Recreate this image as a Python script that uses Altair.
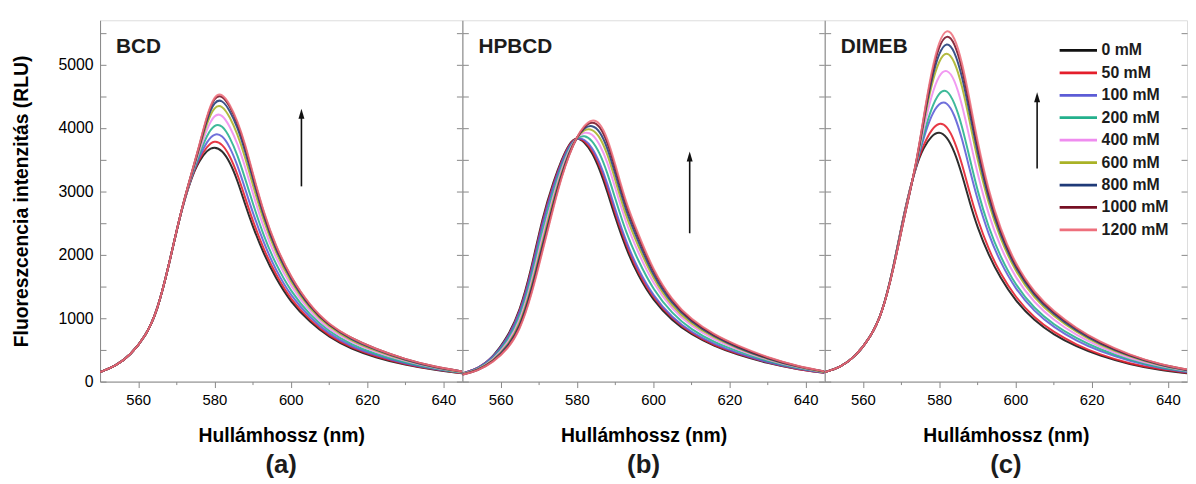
import altair as alt
import pandas as pd

# ---------------- data ----------------
WAVELENGTH = [550, 554, 558, 562, 565, 568, 571, 574, 576, 578, 580, 582, 584,
              586, 588, 590, 593, 596, 600, 605, 610, 616, 622, 630, 638, 645]

CONCENTRATIONS = ["0 mM", "50 mM", "100 mM", "200 mM", "400 mM",
                  "600 mM", "800 mM", "1000 mM", "1200 mM"]
COLORS = ["#111111", "#e41e2b", "#5c5cd6", "#24b08c", "#ef8cef",
          "#a9b226", "#1f3a78", "#761024", "#ee6f7c"]

BCD = {
    "0 mM":    [150, 240, 420, 720, 1110, 1820, 2640, 3230, 3480, 3650, 3710, 3650, 3470, 3180, 2800, 2450, 2000, 1640, 1250, 940, 700, 510, 385, 260, 180, 130],
    "50 mM":   [150, 240, 420, 720, 1110, 1820, 2640, 3240, 3510, 3710, 3810, 3750, 3570, 3280, 2910, 2540, 2070, 1700, 1290, 970, 720, 530, 400, 270, 190, 130],
    "100 mM":  [150, 240, 420, 720, 1110, 1820, 2640, 3250, 3540, 3790, 3920, 3890, 3710, 3420, 3050, 2670, 2170, 1770, 1350, 1010, 750, 550, 420, 280, 190, 140],
    "200 mM":  [150, 240, 420, 720, 1110, 1820, 2640, 3260, 3580, 3890, 4060, 4050, 3860, 3580, 3210, 2820, 2280, 1860, 1420, 1050, 790, 580, 440, 300, 200, 140],
    "400 mM":  [150, 240, 420, 720, 1110, 1820, 2640, 3270, 3630, 3990, 4220, 4220, 4030, 3760, 3400, 2980, 2400, 1960, 1500, 1100, 820, 620, 470, 320, 210, 150],
    "600 mM":  [150, 240, 420, 720, 1110, 1820, 2640, 3280, 3670, 4080, 4350, 4360, 4180, 3910, 3550, 3110, 2510, 2040, 1560, 1140, 860, 640, 490, 330, 220, 150],
    "800 mM":  [150, 240, 420, 720, 1110, 1820, 2640, 3280, 3690, 4140, 4430, 4450, 4280, 4020, 3650, 3210, 2580, 2090, 1610, 1170, 880, 660, 510, 340, 220, 160],
    "1000 mM": [150, 240, 420, 720, 1110, 1820, 2640, 3290, 3710, 4180, 4500, 4520, 4350, 4090, 3730, 3270, 2630, 2130, 1640, 1190, 890, 680, 520, 350, 230, 160],
    "1200 mM": [150, 240, 420, 720, 1110, 1820, 2640, 3290, 3720, 4200, 4520, 4550, 4380, 4120, 3760, 3300, 2650, 2150, 1650, 1200, 900, 680, 520, 350, 230, 160],
}

HPBCD = {
    "0 mM":    [130, 200, 380, 720, 1100, 1750, 2600, 3180, 3500, 3760, 3860, 3780, 3620, 3350, 3000, 2600, 2080, 1680, 1280, 960, 740, 560, 425, 290, 190, 140],
    "50 mM":   [130, 200, 370, 700, 1080, 1720, 2560, 3150, 3480, 3750, 3860, 3800, 3660, 3410, 3070, 2670, 2140, 1730, 1320, 990, 760, 570, 440, 300, 190, 140],
    "100 mM":  [130, 200, 370, 690, 1060, 1690, 2520, 3120, 3460, 3730, 3850, 3830, 3700, 3460, 3130, 2730, 2190, 1780, 1350, 1010, 780, 590, 450, 300, 200, 140],
    "200 mM":  [120, 190, 350, 650, 1000, 1600, 2410, 3040, 3400, 3700, 3850, 3890, 3810, 3610, 3300, 2900, 2330, 1920, 1450, 1070, 820, 620, 480, 320, 210, 150],
    "400 mM":  [120, 180, 340, 610, 940, 1520, 2300, 2960, 3350, 3660, 3860, 3940, 3920, 3750, 3470, 3070, 2480, 2050, 1540, 1140, 870, 660, 510, 340, 220, 150],
    "600 mM":  [120, 180, 320, 580, 890, 1460, 2210, 2900, 3300, 3630, 3860, 3980, 3990, 3870, 3600, 3200, 2580, 2150, 1620, 1180, 910, 690, 530, 350, 230, 150],
    "800 mM":  [110, 180, 310, 560, 850, 1410, 2150, 2850, 3270, 3610, 3860, 4010, 4050, 3960, 3700, 3300, 2670, 2230, 1670, 1220, 940, 710, 540, 360, 230, 160],
    "1000 mM": [110, 170, 310, 530, 820, 1360, 2090, 2810, 3240, 3590, 3860, 4030, 4110, 4040, 3790, 3390, 2750, 2300, 1730, 1260, 960, 730, 560, 370, 240, 160],
    "1200 mM": [110, 170, 300, 520, 800, 1330, 2050, 2780, 3220, 3580, 3860, 4050, 4140, 4090, 3850, 3450, 2800, 2350, 1760, 1280, 980, 740, 570, 380, 240, 160],
}

DIMEB = {
    "0 mM":    [150, 220, 390, 700, 1060, 1780, 2730, 3420, 3700, 3880, 3950, 3870, 3640, 3270, 2830, 2440, 1990, 1640, 1270, 960, 740, 550, 410, 270, 180, 130],
    "50 mM":   [150, 220, 390, 700, 1060, 1780, 2720, 3420, 3750, 3980, 4090, 4040, 3810, 3440, 2980, 2570, 2080, 1710, 1330, 1000, 780, 580, 430, 280, 190, 140],
    "100 mM":  [150, 220, 390, 700, 1060, 1780, 2700, 3420, 3860, 4210, 4400, 4420, 4220, 3840, 3350, 2880, 2310, 1890, 1460, 1100, 860, 640, 480, 320, 210, 150],
    "200 mM":  [150, 220, 390, 700, 1060, 1780, 2690, 3420, 3920, 4320, 4570, 4620, 4410, 4040, 3530, 3020, 2420, 1980, 1520, 1150, 900, 680, 510, 340, 220, 160],
    "400 mM":  [150, 220, 390, 700, 1060, 1770, 2670, 3420, 4010, 4520, 4850, 4940, 4780, 4380, 3840, 3290, 2620, 2130, 1630, 1240, 970, 730, 550, 360, 240, 170],
    "600 mM":  [150, 220, 390, 700, 1060, 1770, 2660, 3420, 4100, 4690, 5080, 5220, 5070, 4680, 4110, 3510, 2790, 2260, 1730, 1310, 1030, 780, 580, 390, 250, 180],
    "800 mM":  [150, 220, 390, 700, 1060, 1770, 2650, 3420, 4140, 4770, 5200, 5370, 5230, 4830, 4250, 3630, 2870, 2320, 1780, 1350, 1060, 800, 600, 400, 260, 180],
    "1000 mM": [150, 220, 390, 700, 1060, 1760, 2640, 3420, 4180, 4850, 5310, 5490, 5360, 4960, 4370, 3730, 2950, 2380, 1820, 1380, 1090, 830, 620, 410, 270, 190],
    "1200 mM": [150, 220, 390, 700, 1060, 1760, 2640, 3430, 4200, 4900, 5380, 5580, 5450, 5050, 4450, 3800, 3000, 2420, 1850, 1400, 1110, 840, 630, 420, 270, 190],
}

PANEL_SERIES = [BCD, HPBCD, DIMEB]
PANEL_NAMES = ["BCD", "HPBCD", "DIMEB"]
PANEL_LETTERS = ["(a)", "(b)", "(c)"]

X_MAJOR = [560, 580, 600, 620, 640]
X_MINOR = [570, 590, 610, 630]
Y_LABELS = [0, 1000, 2000, 3000, 4000, 5000]
Y_TICKS = [0, 500, 1000, 1500, 2000, 2500, 3000, 3500, 4000, 4500, 5000, 5500]

# annotation anchors (data coordinates)
NAME_X, NAME_Y = 554.2, 5270
ARROW_X = [602.8, 609.6, 605.7]
ARROW_Y0 = [3080, 2340, 3360]
ARROW_Y1 = [4300, 3625, 4560]
LEG_X0, LEG_X1, LEG_TX = 611.6, 621.4, 622.6
LEG_TOP, LEG_STEP = 5225, 354

# ---------------- styling ----------------
W, H = 366, 365
FONT = "Liberation Sans"
TXT = "#1c1c1c"
AXC = "#404040"

X_SCALE = alt.Scale(domain=[550, 645], nice=False, zero=False)
Y_SCALE = alt.Scale(domain=[0, 5700], nice=False, zero=False)
C_SCALE = alt.Scale(domain=CONCENTRATIONS, range=COLORS)

NO_GRID = dict(grid=False, gridOpacity=0, gridColor="white")


def build_panel(i):
    series = PANEL_SERIES[i]
    rows = []
    for conc in CONCENTRATIONS:
        for wl, val in zip(WAVELENGTH, series[conc]):
            rows.append({"nm": wl, "rlu": val, "conc": conc})
    df = pd.DataFrame(rows)
    first = i == 0

    if first:
        y_main = alt.Axis(orient="left", values=Y_LABELS, ticks=False, domain=True,
                          labels=True, labelPadding=7, labelFontSize=16, format="d",
                          title="Fluoreszcencia intenzitás (RLU)", titleFontSize=19.5,
                          titleX=-79, titleY=H / 2, titleAngle=-90,
                          titleAlign="center", titleBaseline="middle", **NO_GRID)
    else:
        y_main = alt.Axis(orient="left", values=Y_LABELS, ticks=False, domain=True,
                          labels=False, title=None, **NO_GRID)

    x_main = alt.Axis(orient="bottom", values=X_MAJOR, tickSize=6, labelFontSize=15,
                      labelPadding=5, title="Hullámhossz (nm)", titleFontSize=19.5,
                      titlePadding=20, **NO_GRID)

    lines = alt.Chart(df).mark_line(interpolate="basis", strokeWidth=2, opacity=0.88, clip=True).encode(
        x=alt.X("nm:Q", scale=X_SCALE, axis=x_main),
        y=alt.Y("rlu:Q", scale=Y_SCALE, axis=y_main),
        color=alt.Color("conc:N", scale=C_SCALE, legend=None),
    )

    arrow_df = pd.DataFrame({
        "x": [ARROW_X[i]],
        "y0": [ARROW_Y0[i]],
        "y1": [ARROW_Y1[i] - 110],
        "yh": [ARROW_Y1[i] - 75],
    })
    shaft = alt.Chart(arrow_df).mark_rule(color="#111111", strokeWidth=1.6).encode(
        x=alt.X("x:Q", scale=X_SCALE,
                axis=alt.Axis(orient="bottom", values=X_MINOR, tickSize=3, labels=False,
                              domain=False, title=None, **NO_GRID)),
        y=alt.Y("y0:Q", scale=Y_SCALE,
                axis=alt.Axis(orient="right", offset=-W, values=Y_TICKS, tickSize=6,
                              labels=False, domain=False, title=None, **NO_GRID)),
        y2="y1:Q",
    )
    head = alt.Chart(arrow_df).mark_point(
        shape="M0,-1L0.6,1L-0.6,1Z", size=100, filled=True, color="#111111", opacity=1
    ).encode(
        x=alt.X("x:Q", scale=X_SCALE, axis=None),
        y=alt.Y("yh:Q", scale=Y_SCALE,
                axis=alt.Axis(orient="left", offset=-W, values=Y_TICKS, tickSize=6,
                              labels=False, domain=False, title=None, **NO_GRID)),
    )

    name_df = pd.DataFrame({"x": [NAME_X], "y": [NAME_Y], "label": [PANEL_NAMES[i]]})
    name = alt.Chart(name_df).mark_text(
        align="left", baseline="middle", fontSize=21, fontWeight="bold", font=FONT, color=TXT
    ).encode(
        x=alt.X("x:Q", scale=X_SCALE, axis=None),
        y=alt.Y("y:Q", scale=Y_SCALE, axis=None),
        text="label:N",
    )

    layers = [lines, shaft, head, name]

    if i == 2:
        leg_df = pd.DataFrame({
            "conc": CONCENTRATIONS,
            "x0": [LEG_X0] * len(CONCENTRATIONS),
            "x1": [LEG_X1] * len(CONCENTRATIONS),
            "tx": [LEG_TX] * len(CONCENTRATIONS),
            "y": [LEG_TOP - k * LEG_STEP for k in range(len(CONCENTRATIONS))],
        })
        leg_lines = alt.Chart(leg_df).mark_rule(strokeWidth=2.8).encode(
            x=alt.X("x0:Q", scale=X_SCALE, axis=None),
            x2="x1:Q",
            y=alt.Y("y:Q", scale=Y_SCALE, axis=None),
            color=alt.Color("conc:N", scale=C_SCALE, legend=None),
        )
        leg_text = alt.Chart(leg_df).mark_text(
            align="left", baseline="middle", fontSize=16, fontWeight="bold", font=FONT, color=TXT
        ).encode(
            x=alt.X("tx:Q", scale=X_SCALE, axis=None),
            y=alt.Y("y:Q", scale=Y_SCALE, axis=None),
            text="conc:N",
        )
        layers += [leg_lines, leg_text]

    return alt.layer(*layers).resolve_axis(x="independent", y="independent").properties(
        width=W, height=H,
        title=alt.TitleParams(text=PANEL_LETTERS[i], orient="bottom", frame="group",
                              fontSize=26, fontWeight="bold", font=FONT, color=TXT, offset=7),
    )


chart = alt.hconcat(build_panel(0), build_panel(1), build_panel(2),
                    spacing=0, bounds="flush").properties(
    padding={"left": 3, "top": 9, "right": 0, "bottom": 0}
).configure_view(strokeWidth=0).configure_axis(
    grid=False, gridOpacity=0, gridWidth=0, gridColor="white",
    domainColor=AXC, domainWidth=1.5, tickColor=AXC, tickWidth=1.4,
    labelFont=FONT, labelFontWeight="bold", labelColor=TXT,
    titleFont=FONT, titleFontWeight="bold", titleColor=TXT,
).configure(background="white")

chart.save("out.html", embed_options={"renderer": "svg", "actions": False})
